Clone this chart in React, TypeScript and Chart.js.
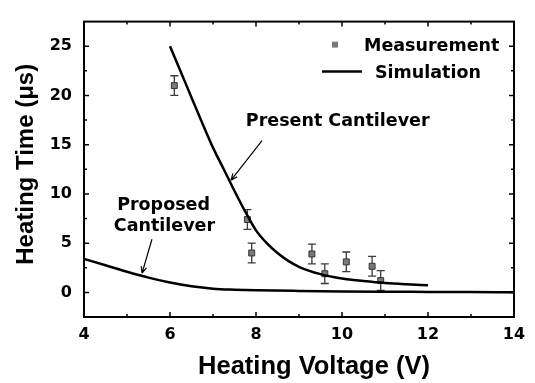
import { useEffect, useRef } from "react";
import { Chart, registerables } from "chart.js";
Chart.register(...registerables);

// ---- data ----
const xTickValues = [4, 6, 8, 10, 12, 14];
const xMinorTicks = [5, 7, 9, 11, 13];
const yTickValues = [0, 5, 10, 15, 20, 25];
const yMinorTicks = [2.5, 7.5, 12.5, 17.5, 22.5];

const measX = [6.1, 7.8, 7.9, 9.3, 9.6, 10.1, 10.7, 10.9];
const measY = [21.0, 7.4, 4.0, 3.9, 1.9, 3.1, 2.65, 1.2];
const measErr = [1, 1, 1, 1, 1, 1, 1, 1];

const presentX = [6.0, 6.25, 6.5, 6.75, 7.0, 7.25, 7.5, 7.75, 8.0, 8.25, 8.5, 8.75, 9.0, 9.5, 10, 10.5, 11, 11.5, 12];
const presentY = [25, 22.4, 19.8, 17.2, 14.7, 12.5, 10.3, 8.2, 6.3, 5.0, 4.0, 3.2, 2.6, 1.85, 1.4, 1.15, 0.95, 0.82, 0.72];

const proposedX = [4, 4.5, 5, 5.5, 6, 6.5, 7, 7.5, 8, 9, 10, 11, 12, 13, 14];
const proposedY = [3.4, 2.75, 2.1, 1.5, 1.0, 0.62, 0.38, 0.28, 0.22, 0.15, 0.1, 0.07, 0.05, 0.03, 0.02];

const xTitle = "Heating Voltage (V)";
const yTitle = "Heating Time (\u03bcs)";
const legendLabels = ["Measurement", "Simulation"];

const SMALL_FONT = "bold 17.5px 'DejaVu Sans'";
const TITLE_FONT = "bold 25.5px 'Liberation Sans', Arial";
const YTITLE_FONT = "bold 24px 'Liberation Sans', Arial";

const decorPlugin = {
  id: "decor",
  beforeDatasetsDraw(chart: any) {
    const { ctx, scales } = chart;
    const xs = scales.x, ys = scales.y;
    ctx.save();
    ctx.strokeStyle = "#3a3a3a";
    ctx.lineWidth = 1.3;
    measX.forEach((x, i) => {
      const px = xs.getPixelForValue(x);
      const top = ys.getPixelForValue(measY[i] + measErr[i]);
      const bot = ys.getPixelForValue(measY[i] - measErr[i]);
      ctx.beginPath();
      ctx.moveTo(px, top); ctx.lineTo(px, bot);
      ctx.moveTo(px - 4, top); ctx.lineTo(px + 4, top);
      ctx.moveTo(px - 4, bot); ctx.lineTo(px + 4, bot);
      ctx.stroke();
    });
    ctx.restore();
  },
  afterDraw(chart: any) {
    const { ctx, chartArea: a, scales } = chart;
    const xs = scales.x, ys = scales.y;
    ctx.save();
    // frame
    ctx.strokeStyle = "#000";
    ctx.lineWidth = 2;
    ctx.strokeRect(a.left, a.top, a.right - a.left, a.bottom - a.top);
    // ticks
    ctx.lineWidth = 1.5;
    ctx.beginPath();
    const xt = (v: number, len: number) => {
      const p = xs.getPixelForValue(v);
      ctx.moveTo(p, a.bottom); ctx.lineTo(p, a.bottom - len);
      ctx.moveTo(p, a.top); ctx.lineTo(p, a.top + len);
    };
    const yt = (v: number, len: number) => {
      const p = ys.getPixelForValue(v);
      ctx.moveTo(a.left, p); ctx.lineTo(a.left + len, p);
      ctx.moveTo(a.right, p); ctx.lineTo(a.right - len, p);
    };
    xTickValues.forEach((v) => xt(v, 5));
    xMinorTicks.forEach((v) => xt(v, 3));
    yTickValues.forEach((v) => yt(v, 5));
    yMinorTicks.forEach((v) => yt(v, 3));
    ctx.stroke();

    // axis titles
    ctx.fillStyle = "#000";
    ctx.font = TITLE_FONT;
    ctx.textAlign = "center";
    ctx.textBaseline = "alphabetic";
    ctx.fillText(xTitle, (a.left + a.right) / 2 + 15, a.bottom + 57);
    ctx.save();
    ctx.translate(33, (a.top + a.bottom) / 2 - 5);
    ctx.rotate(-Math.PI / 2);
    ctx.font = YTITLE_FONT;
    ctx.fillText(yTitle, 0, 0);
    ctx.restore();

    // legend
    ctx.font = SMALL_FONT;
    ctx.textAlign = "left";
    const lx = a.right - 150;
    ctx.fillStyle = "#7a7a7a";
    ctx.fillRect(a.right - 182, a.top + 20, 6, 6);
    ctx.fillStyle = "#000";
    ctx.fillText(legendLabels[0], lx, a.top + 29);
    ctx.strokeStyle = "#000";
    ctx.lineWidth = 2.5;
    ctx.beginPath();
    ctx.moveTo(a.right - 192, a.top + 50);
    ctx.lineTo(a.right - 152, a.top + 50);
    ctx.stroke();
    ctx.fillText(legendLabels[1], a.right - 139, a.top + 56);

    // annotations
    const P = (x: number, y: number) => [xs.getPixelForValue(x), ys.getPixelForValue(y)];
    ctx.textAlign = "center";
    const [t1x, t1y] = P(9.9, 16.9);
    ctx.fillText("Present Cantilever", t1x, t1y);
    const [t2x, t2y] = P(5.85, 8.4);
    ctx.fillText("Proposed", t2x, t2y);
    const [t3x, t3y] = P(5.87, 6.25);
    ctx.fillText("Cantilever", t3x, t3y);

    const arrow = (x0: number, y0: number, x1: number, y1: number) => {
      const [ax, ay] = P(x0, y0);
      const [bx, by] = P(x1, y1);
      ctx.lineWidth = 1.2;
      ctx.beginPath();
      ctx.moveTo(ax, ay); ctx.lineTo(bx, by);
      const ang = Math.atan2(by - ay, bx - ax);
      const hl = 7, hw = 0.4;
      ctx.moveTo(bx, by);
      ctx.lineTo(bx - hl * Math.cos(ang - hw), by - hl * Math.sin(ang - hw));
      ctx.moveTo(bx, by);
      ctx.lineTo(bx - hl * Math.cos(ang + hw), by - hl * Math.sin(ang + hw));
      ctx.stroke();
    };
    arrow(8.14, 15.4, 7.42, 11.4);
    arrow(5.58, 5.4, 5.35, 1.95);
    ctx.restore();
  },
};

export default function App() {
  const ref = useRef<HTMLCanvasElement>(null);
  useEffect(() => {
    document.body.style.margin = "0";
    const chart = new Chart(ref.current!, {
      type: "scatter",
      data: {
        datasets: [
          {
            label: "Present",
            type: "line",
            data: presentX.map((x, i) => ({ x, y: presentY[i] })),
            borderColor: "#000",
            borderWidth: 2.5,
            pointRadius: 0,
            cubicInterpolationMode: "monotone",
            fill: false,
          },
          {
            label: "Proposed",
            type: "line",
            data: proposedX.map((x, i) => ({ x, y: proposedY[i] })),
            borderColor: "#000",
            borderWidth: 2.5,
            pointRadius: 0,
            cubicInterpolationMode: "monotone",
            fill: false,
          },
          {
            label: "Measurement",
            data: measX.map((x, i) => ({ x, y: measY[i] })),
            pointStyle: "rect",
            pointRadius: 4.2,
            backgroundColor: "#7a7a7a",
            borderColor: "#333",
            borderWidth: 1,
          },
        ],
      } as any,
      options: {
        responsive: false,
        animation: false,
        devicePixelRatio: 1,
        layout: { padding: { top: 10, right: 21, left: 0, bottom: 0 } },
        plugins: { legend: { display: false }, tooltip: { enabled: false } },
        scales: {
          x: {
            type: "linear",
            min: 4,
            max: 14,
            afterBuildTicks: (s: any) => { s.ticks = xTickValues.map((value) => ({ value })); },
            afterFit: (s: any) => { s.height = 66; },
            grid: { display: false, drawTicks: false },
            border: { display: false },
            ticks: { color: "#000", font: { family: "'DejaVu Sans'", weight: "bold", size: 16 }, padding: 8, maxRotation: 0 },
          },
          y: {
            type: "linear",
            min: -2.5,
            max: 27.5,
            afterBuildTicks: (s: any) => { s.ticks = yTickValues.map((value) => ({ value })); },
            afterFit: (s: any) => { s.width = 84; },
            grid: { display: false, drawTicks: false },
            border: { display: false },
            ticks: { color: "#000", font: { family: "'DejaVu Sans'", weight: "bold", size: 16 }, padding: 12 },
          },
        },
      } as any,
      plugins: [decorPlugin],
    });
    return () => chart.destroy();
  }, []);
  return (
    <div style={{ width: 535, height: 383 }}>
      <canvas ref={ref} width={535} height={383} style={{ display: "block" }} />
    </div>
  );
}
